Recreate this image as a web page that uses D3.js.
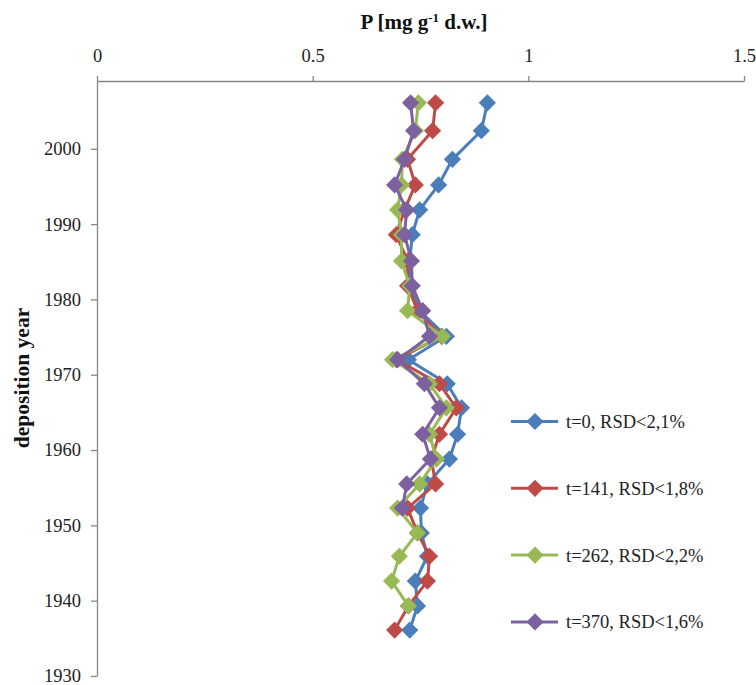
<!DOCTYPE html>
<html>
<head>
<meta charset="utf-8">
<script src="https://cdn.jsdelivr.net/npm/d3@7"></script>
<style>
  body { margin: 0; background: #fff; }
  svg { display: block; font-family: "Liberation Serif", "Times New Roman", serif; }
</style>
</head>
<body>
<svg id="chart" width="756" height="685"></svg>
<script>
// deposition years of the core slices (top to bottom)
var years = [2006.1, 2002.4, 1998.6, 1995.2, 1991.9, 1988.6, 1985.1, 1981.8, 1978.5, 1975.1, 1972.0,
  1968.8, 1965.6, 1962.1, 1958.8, 1955.5, 1952.3, 1949.0, 1945.9, 1942.6, 1939.3, 1936.1];

// P content, mg/g dry weight
var t0   = [0.905, 0.891, 0.824, 0.792, 0.748, 0.731, 0.725, 0.725, 0.748, 0.810, 0.722,
  0.812, 0.845, 0.836, 0.817, 0.766, 0.750, 0.752, 0.766, 0.738, 0.743, 0.725];
var t141 = [0.785, 0.778, 0.720, 0.738, 0.713, 0.694, 0.720, 0.720, 0.743, 0.799, 0.694,
  0.794, 0.833, 0.794, 0.775, 0.785, 0.720, 0.743, 0.771, 0.766, 0.722, 0.690];
var t262 = [0.745, 0.738, 0.708, 0.706, 0.697, 0.706, 0.706, 0.725, 0.720, 0.801, 0.685,
  0.771, 0.810, 0.771, 0.787, 0.748, 0.697, 0.743, 0.701, 0.683, 0.722];
var t370 = [0.727, 0.734, 0.713, 0.690, 0.718, 0.713, 0.729, 0.731, 0.755, 0.771, 0.697,
  0.759, 0.794, 0.755, 0.773, 0.718, 0.708];

var seriesNames = ["t=0, RSD<2,1%", "t=141, RSD<1,8%", "t=262, RSD<2,2%", "t=370, RSD<1,6%"];
var seriesColors = ["#4a7ebb", "#be4b48", "#98b954", "#7d60a0"];
var xTicks = [0, 0.5, 1, 1.5];
var yTicks = [1930, 1940, 1950, 1960, 1970, 1980, 1990, 2000];

var svg = d3.select("#chart");

var x = d3.scaleLinear().domain([0, 1.5]).range([97, 744]);
var y = d3.scaleLinear().domain([1930, 2009]).range([676, 81]);

var axisColor = "#868686";

// top x axis
var xAxis = svg.append("g")
    .attr("transform", "translate(0," + y(2009) + ")")
    .call(d3.axisTop(x).tickValues(xTicks).tickSize(5).tickSizeOuter(0)
      .tickFormat(function (d) { return d3.format("")(d) }));

// left y axis
var yAxis = svg.append("g")
    .attr("transform", "translate(" + x(0) + ",0)")
    .call(d3.axisLeft(y).tickValues(yTicks).tickSize(6).tickSizeOuter(0)
      .tickFormat(d3.format("d")));

[xAxis, yAxis].forEach(function (ax) {
  ax.select(".domain").attr("stroke", axisColor).attr("stroke-width", 1.3);
  ax.selectAll(".tick line").attr("stroke", axisColor).attr("stroke-width", 1.3);
  ax.selectAll(".tick text")
      .attr("fill", "#222")
      .style("font-family", "Liberation Serif")
      .style("font-size", "18.5px");
});
xAxis.selectAll(".tick text").attr("dy", "-0.5em").attr("y", -10);
yAxis.selectAll(".tick text").attr("x", -16);

// titles
svg.append("text")
    .attr("x", 424)
    .attr("y", 29)
    .attr("text-anchor", "middle")
    .style("font-weight", "bold")
    .style("font-size", "21px")
    .attr("fill", "#111")
    .call(function (t) {
      t.append("tspan").text("P [mg g");
      t.append("tspan").attr("dy", -7).style("font-size", "13px").text("-1");
      t.append("tspan").attr("dy", 7).text(" d.w.]");
    });

svg.append("text")
    .attr("transform", "translate(29,378) rotate(-90)")
    .attr("text-anchor", "middle")
    .style("font-weight", "bold")
    .style("font-size", "21.5px")
    .attr("fill", "#111")
    .text("deposition year");

var diamond = d3.symbol().type(d3.symbolSquare).size(148);

var line = d3.line()
    .x(function (d) { return x(d.v) })
    .y(function (d) { return y(d.year) });

var seriesData = [t0, t141, t262, t370].map(function (vals) {
  return vals.map(function (v, i) { return { year: years[i], v: v } });
});

seriesData.forEach(function (pts, s) {
  var g = svg.append("g");
  g.append("path")
      .datum(pts)
      .attr("fill", "none")
      .attr("stroke", seriesColors[s])
      .attr("stroke-width", 3)
      .attr("stroke-linejoin", "round")
      .attr("d", line);
  g.selectAll("path.pt")
    .data(pts)
    .join("path")
      .attr("class", "pt")
      .attr("d", diamond)
      .attr("fill", seriesColors[s])
      .attr("transform", function (d) {
        return "translate(" + x(d.v) + "," + y(d.year) + ") rotate(45)";
      });
});

// legend
var legend = svg.append("g")
  .selectAll("g")
  .data(seriesNames)
  .join("g")
    .attr("transform", function (d, i) { return "translate(511," + (421.5 + i * 66.8) + ")" });

legend.append("line")
    .attr("x1", 0).attr("x2", 47)
    .attr("stroke", function (d, i) { return seriesColors[i] })
    .attr("stroke-width", 3);
legend.append("path")
    .attr("d", diamond)
    .attr("transform", "translate(24,0) rotate(45)")
    .attr("fill", function (d, i) { return seriesColors[i] });
legend.append("text")
    .attr("x", 55)
    .attr("dy", "0.35em")
    .style("font-size", "18.5px")
    .attr("fill", "#222")
    .text(function (d) { return d });
</script>
</body>
</html>
